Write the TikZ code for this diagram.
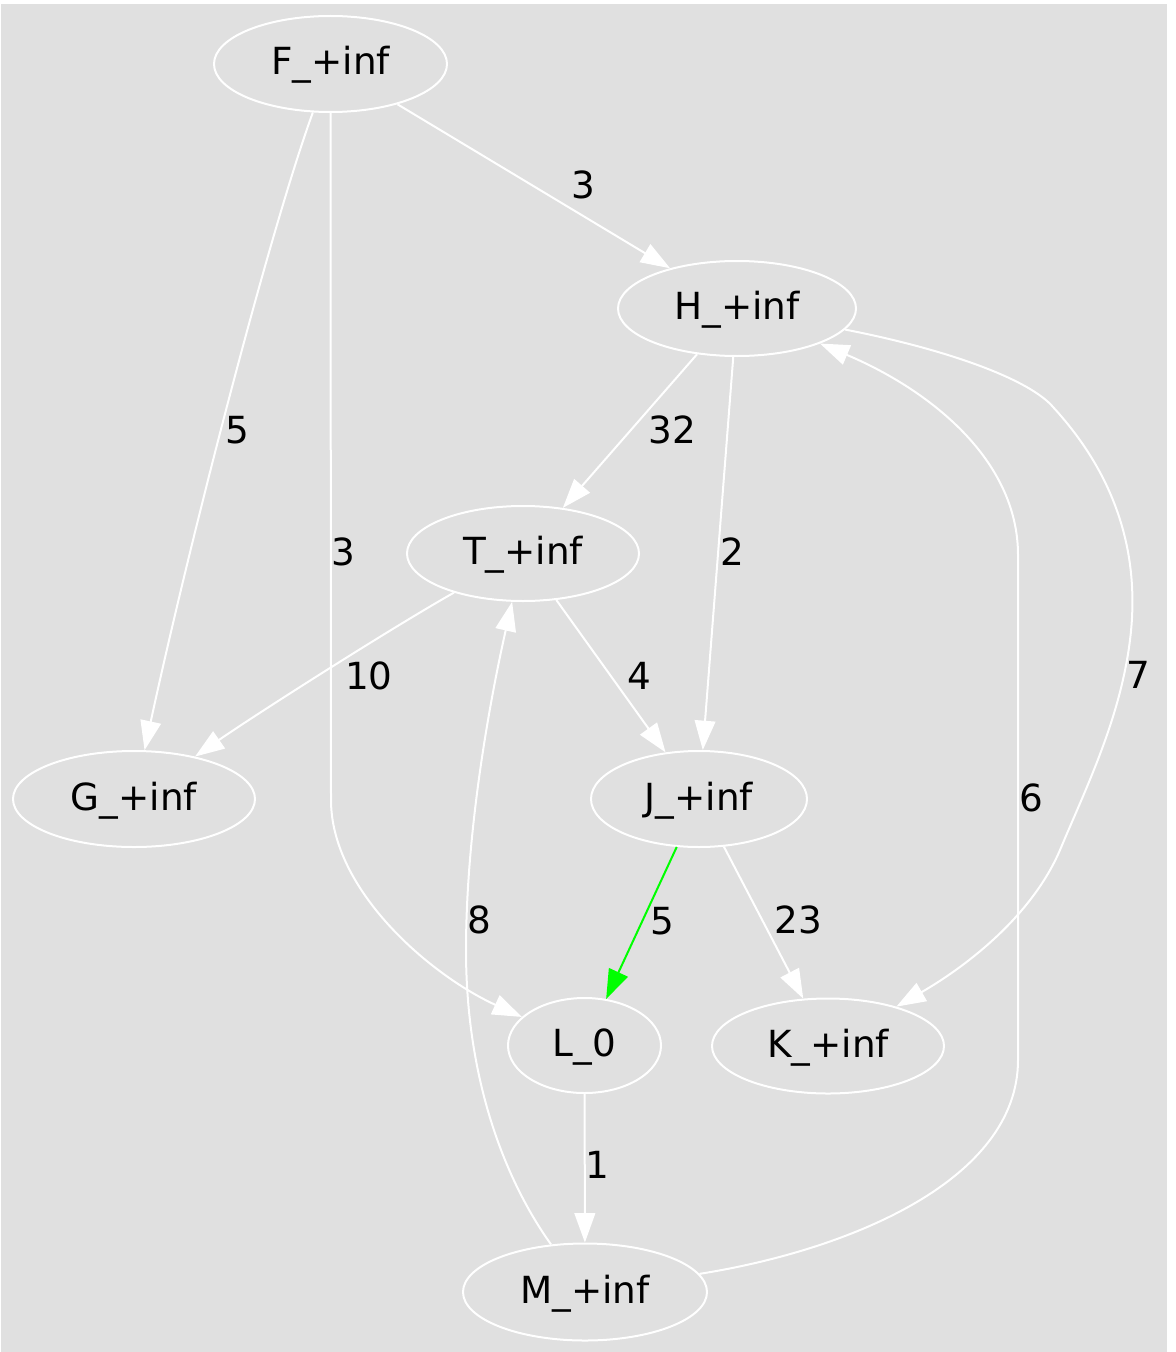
\documentclass[tikz,border=0pt]{standalone}
\usepackage{fontspec}
\usetikzlibrary{shapes.geometric,arrows.meta}
\newfontfamily\dejavu{DejaVu Sans}
\definecolor{bggray}{HTML}{E0E0E0}
\definecolor{grn}{HTML}{00FF00}
\newdimen\pxu
\pxu=0.75pt
\tikzset{
  gnode/.style={ellipse, draw=white, line width=1.5pt, inner sep=0pt,
    text height=16.5pt, text depth=0pt, text=black,
    font={\dejavu\fontsize{28pt}{34pt}\selectfont}},
  elabel/.style={inner sep=0pt, text height=20.25pt, text depth=0pt, text=black,
    font={\dejavu\fontsize{28pt}{34pt}\selectfont}},
  edge/.style={draw=white, line width=1.5pt, -{Triangle[length=22pt,width=15.5pt]}},
  hot/.style={draw=grn, line width=1.5pt, -{Triangle[length=22pt,width=15.5pt]}}
}
\begin{document}
\begin{tikzpicture}[x=0.75pt,y=-0.75pt]
\useasboundingbox (0,0) rectangle (1175,1352);
\fill[bggray] (1,4) rectangle (1167,1352);

% nodes
\node[gnode, minimum width=233\pxu, minimum height=96\pxu] (F) at (330.5,64) {F\_+inf};
\node[gnode, minimum width=238\pxu, minimum height=95\pxu] (H) at (737,308.5) {H\_+inf};
\node[gnode, minimum width=232\pxu, minimum height=95\pxu] (T) at (523,553.5) {T\_+inf};
\node[gnode, minimum width=242\pxu, minimum height=96\pxu] (G) at (134,799) {G\_+inf};
\node[gnode, minimum width=216\pxu, minimum height=96\pxu] (J) at (699,799) {J\_+inf};
\node[gnode, minimum width=153\pxu, minimum height=95\pxu] (L) at (584.5,1045.5) {L\_0};
\node[gnode, minimum width=232\pxu, minimum height=95\pxu] (K) at (828,1046) {K\_+inf};
\node[gnode, minimum width=244\pxu, minimum height=97\pxu] (M) at (585,1292) {M\_+inf};

% edges
\draw[edge] (F) -- (H);
\draw[edge] (F) .. controls (270,230) and (190,540) .. (G);
\draw[edge] (F.south) -- (331,800) .. controls (331,890) and (430,975) .. (L);
\draw[edge] (H) -- (T);
\draw[edge] (H) -- (J);
\draw[edge] (H) .. controls (950,350) and (1030,380) .. (1053,407)
  .. controls (1120,480) and (1140,560) .. (1130,640)
  .. controls (1120,720) and (1085,790) .. (1060,850)
  .. controls (1030,920) and (960,970) .. (K);
\draw[edge] (T) .. controls (388,630) and (252,717) .. (G);
\draw[edge] (T) -- (J);
\draw[hot] (J) -- (L);
\draw[edge] (J) -- (K);
\draw[edge] (L) -- (M);
\draw[edge] (M) .. controls (850,1250) and (1018,1180) .. (1018,1060)
  -- (1018,555) .. controls (1018,460) and (930,390) .. (H);
\draw[edge] (M) .. controls (505,1180) and (466,1080) .. (466,950)
  .. controls (466,830) and (490,700) .. (T);

% edge labels
\node[elabel] (lFH) at (583,185) {3};
\node[elabel] (lFG) at (237,430) {5};
\node[elabel] (lFL) at (343,552) {3};
\node[elabel] (lHT) at (672,430) {32};
\node[elabel] (lHJ) at (732,552) {2};
\node[elabel] (lHK) at (1138,675) {7};
\node[elabel] (lTG) at (369,676) {10};
\node[elabel] (lTJ) at (639,676) {4};
\node[elabel] (lMH) at (1031,798) {6};
\node[elabel] (lMT) at (479,920) {8};
\node[elabel] (lJL) at (662,921) {5};
\node[elabel] (lJK) at (798,920) {23};
\node[elabel] (lLM) at (597,1165) {1};
\end{tikzpicture}
\end{document}
